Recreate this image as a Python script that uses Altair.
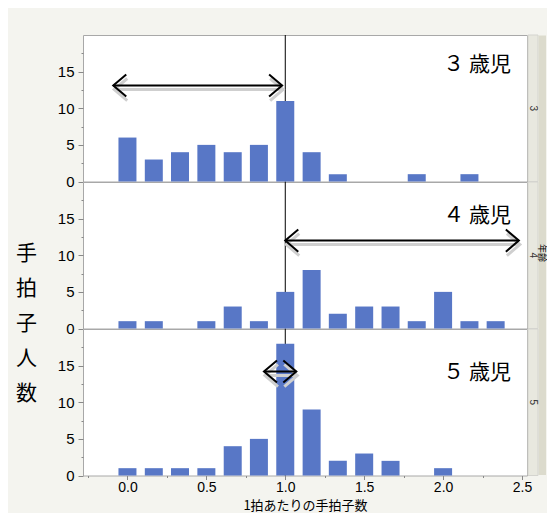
import altair as alt
import pandas as pd

# ---------------- data ----------------
rate_bins = [0.0, 0.167, 0.333, 0.5, 0.667, 0.833, 1.0, 1.167, 1.333,
             1.5, 1.667, 1.833, 2.0, 2.167, 2.333]
count_age3 = [6, 3, 4, 5, 4, 5, 11, 4, 1, 0, 0, 1, 0, 1, 0]
count_age4 = [1, 1, 0, 1, 3, 1, 5, 8, 2, 3, 3, 1, 5, 1, 1]
count_age5 = [1, 1, 1, 1, 4, 5, 18, 9, 2, 3, 2, 0, 1, 0, 0]
ages = ["3", "4", "5"]
age_labels = ["３ 歳児", "４ 歳児", "５ 歳児"]
label_x = [2.43, 2.43, 2.43]
label_y = [15.9, 15.3, 14.0]
arrow_start = [-0.09, 1.0, 0.865]
arrow_end = [0.98, 2.48, 1.07]
arrow_y = [13.1, 12.0, 14.2]
ref_line = [1.0]
x_tick_values = [-0.25, 0.0, 0.25, 0.5, 0.75, 1.0, 1.25, 1.5, 1.75, 2.0, 2.25, 2.5]
y_tick_values = [0, 2.5, 5, 7.5, 10, 12.5, 15, 17.5]
x_title = "1拍あたりの手拍子数"
y_title = ["手", "拍", "子", "人", "数"]
strip_title = "年齢"

# ---------------- style ----------------
W, H = 444, 146.5
BG = "#f4f4ef"
BAR = "#5877c6"
JP = "Noto Sans CJK JP"
NUM = "Liberation Sans"
XS = alt.Scale(domain=[-0.25, 2.5], nice=False, zero=False)
YS = alt.Scale(domain=[0, 20], nice=False, zero=True)
LEFT_HEAD = "M 1 -0.85 L 0 0 L 1 0.85"
RIGHT_HEAD = "M -1 -0.85 L 0 0 L -1 0.85"


def x_axis(bottom):
    if not bottom:
        return None
    return alt.Axis(
        values=x_tick_values,
        labelExpr="abs(datum.value*2 - round(datum.value*2)) < 0.001 ? format(datum.value, '.1f') : ''",
        labelFlush=False, labelOverlap=False, labelBound=False,
        labelFont=NUM, labelFontSize=14, labelColor="black", labelPadding=1,
        tickColor="#888",
        tickSize={"condition": {"test": "abs(datum.value*2 - round(datum.value*2)) < 0.001", "value": 4}, "value": 2},
        domain=False, grid=False,
        title=x_title, titleFont=JP, titleFontSize=13, titleFontWeight="normal",
        titleColor="black", titlePadding=5,
    )


def y_axis(middle):
    kw = dict(
        values=y_tick_values,
        labelExpr="datum.value % 5 == 0 ? format(datum.value, 'd') : ''",
        labelOverlap=False, labelFlush=False, labelBound=False,
        labelFont=NUM, labelFontSize=15, labelColor="black", labelPadding=4,
        tickColor="#888",
        tickSize={"condition": {"test": "datum.value % 5 == 0", "value": 5}, "value": 2},
        domain=False, grid=False,
    )
    if middle:
        kw.update(title=y_title, titleAngle=0, titleX=-57, titleY=71,
                  titleAlign="center", titleBaseline="middle", titleLineHeight=35,
                  titleFont=JP, titleFontSize=21, titleFontWeight="normal", titleColor="black")
    else:
        kw.update(title=None)
    return alt.Axis(**kw)


def panel(i, counts, bottom=False, middle=False):
    xa = x_axis(bottom)
    ya = y_axis(middle)

    def X(f):
        return alt.X(f"{f}:Q", scale=XS, axis=xa)

    def Y(f):
        return alt.Y(f"{f}:Q", scale=YS, axis=ya)

    df = pd.DataFrame({"rate": rate_bins, "count": counts})
    df = df[df["count"] > 0]
    one = pd.DataFrame({"d": [0]})
    ann = pd.DataFrame({
        "x1": [arrow_start[i]], "x2": [arrow_end[i]], "ay": [arrow_y[i]],
        "lx": [label_x[i]], "ly": [label_y[i]], "t": [age_labels[i]],
        "m": ref_line,
    })

    rule = alt.Chart(ann).mark_rule(color="black", strokeWidth=1).encode(x=X("m"))
    bars = alt.Chart(df).mark_bar(size=18, color=BAR).encode(x=X("rate"), y=Y("count"))
    sh_line = alt.Chart(ann).mark_rule(
        color="#cfcfcf", strokeWidth=3, xOffset=1, x2Offset=1, yOffset=4, y2Offset=4
    ).encode(x=X("x1"), x2="x2:Q", y=Y("ay"))
    sh_l = alt.Chart(ann).mark_point(
        shape=LEFT_HEAD, size=676, filled=False, color="#cfcfcf", strokeWidth=3,
        opacity=1, xOffset=1, yOffset=4
    ).encode(x=X("x1"), y=Y("ay"))
    sh_r = alt.Chart(ann).mark_point(
        shape=RIGHT_HEAD, size=676, filled=False, color="#cfcfcf", strokeWidth=3,
        opacity=1, xOffset=1, yOffset=4
    ).encode(x=X("x2"), y=Y("ay"))
    a_line = alt.Chart(ann).mark_rule(color="black", strokeWidth=2).encode(
        x=X("x1"), x2="x2:Q", y=Y("ay"))
    a_l = alt.Chart(ann).mark_point(
        shape=LEFT_HEAD, size=676, filled=False, color="black", strokeWidth=2, opacity=1
    ).encode(x=X("x1"), y=Y("ay"))
    a_r = alt.Chart(ann).mark_point(
        shape=RIGHT_HEAD, size=676, filled=False, color="black", strokeWidth=2, opacity=1
    ).encode(x=X("x2"), y=Y("ay"))
    txt = alt.Chart(ann).mark_text(
        align="right", baseline="middle", font=JP, fontSize=21, color="black"
    ).encode(x=X("lx"), y=Y("ly"), text="t:N")
    strip = alt.Chart(one).mark_rect(fill="#e8e8df", stroke="#d4d4cf", strokeWidth=1).encode(
        x=alt.value(445), x2=alt.value(455), y=alt.value(0), y2=alt.value(H))
    strip_t = alt.Chart(one).mark_text(
        angle=90, baseline="middle", align="center", font=NUM, fontSize=10, color="#333"
    ).encode(x=alt.value(450), y=alt.value(H / 2), text=alt.value(ages[i]))

    layers = [rule, bars, sh_line, sh_l, sh_r, a_line, a_l, a_r, txt, strip, strip_t]
    if middle:
        outer = alt.Chart(one).mark_rect(fill="#dcdbcd").encode(
            x=alt.value(455.5), x2=alt.value(463), y=alt.value(-H), y2=alt.value(2 * H))
        outer_t = alt.Chart(one).mark_text(
            angle=90, baseline="middle", align="center", font=JP, fontSize=9, color="black"
        ).encode(x=alt.value(458.5), y=alt.value(71), text=alt.value(strip_title))
        layers += [outer, outer_t]
    if bottom:
        anchor = alt.Chart(one).mark_rect(fill=BG).encode(
            x=alt.value(-74), x2=alt.value(-73), y=alt.value(0), y2=alt.value(1))
        layers += [anchor]
    return alt.layer(*layers).properties(width=W, height=H)


p3 = panel(0, count_age3)
p4 = panel(1, count_age4, middle=True)
p5 = panel(2, count_age5, bottom=True)

chart = alt.vconcat(p3, p4, p5, spacing=0, bounds="flush").properties(
    padding={"left": 0, "top": 26, "right": 0, "bottom": 0},
    background=BG,
).configure_view(
    fill="white", stroke="#a8a8a8", strokeWidth=1
)

chart.save("out.html", embed_options={"renderer": "svg", "actions": False})
